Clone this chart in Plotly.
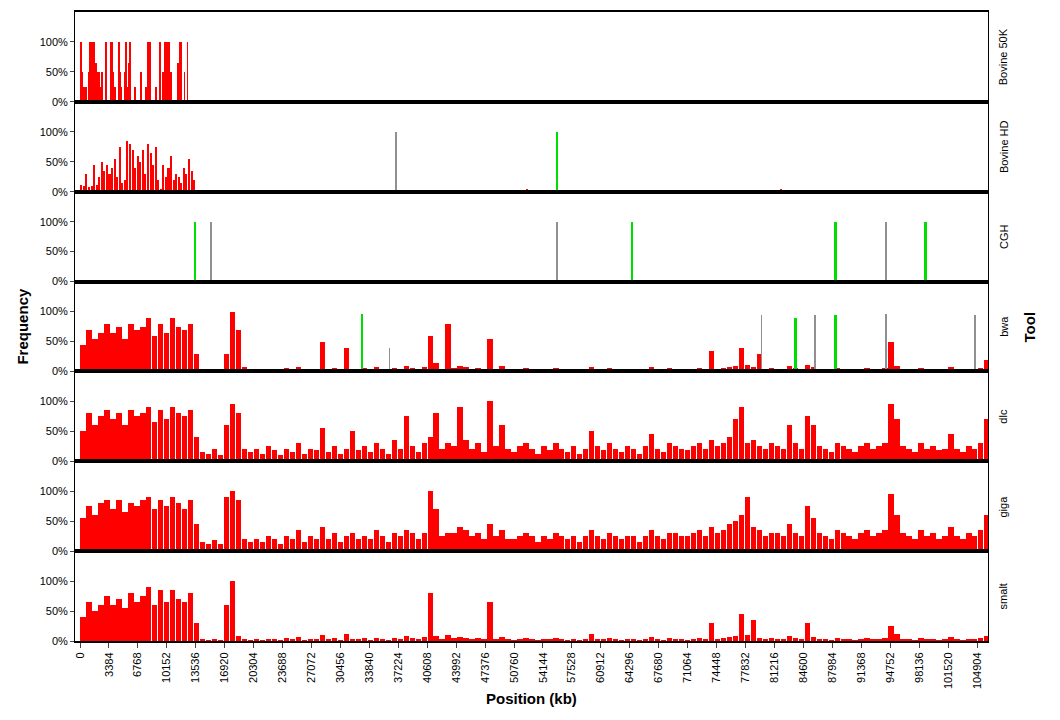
import plotly.graph_objects as go
from plotly.subplots import make_subplots

RED = "#ff0000"
GRAY = "#909090"
GREEN = "#00dd00"

TICKS = list(range(0, 104905, 3384))
TICK_TEXT = [str(t) for t in TICKS]
TOOLS = ["Bovine 50K", "Bovine HD", "CGH", "bwa", "dlc", "giga", "smalt"]

# Bovine 50K: single-SNP positions (kb) and frequency (%)
k50_pos = [156, 273, 507, 741, 1092, 1209, 1326, 1443, 1560, 1677, 1794, 1911, 2028,
           2145, 2262, 2379, 2496, 2613, 3081, 3666, 3783, 3900, 4017, 4134, 4602,
           4719, 4836, 5304, 5421, 5538, 5772, 5889, 6474, 7176, 7761, 7995, 8112,
           8229, 8931, 9399, 9750, 9984, 10101, 10218, 10452, 10686, 11505, 11739,
           11856, 12207, 12558]
k50_val = [100, 50, 25, 25, 50, 100, 25, 100, 50, 100, 25, 65, 50, 50, 50, 25, 25, 50,
           100, 100, 100, 50, 25, 25, 100, 50, 25, 50, 100, 25, 65, 100, 25, 50, 25,
           100, 50, 100, 25, 100, 50, 100, 100, 100, 100, 50, 65, 100, 100, 50, 100]

# Bovine HD: 300 kb bins over the first 13.5 Mb, plus a few isolated calls
hd_pos = [150 + 300 * i for i in range(45)] + [17000, 52300, 82000, 88500, 98500]
hd_val = [12, 10, 30, 8, 10, 45, 12, 25, 50, 35, 45, 30, 40, 55, 25, 75, 15, 20, 85,
          80, 70, 40, 60, 50, 70, 30, 80, 65, 45, 75, 20, 5, 45, 25, 40, 60, 20, 30,
          25, 15, 40, 30, 55, 35, 20] + [3, 5, 4, 2, 3]
hd_gray_pos = [37000, 29800]
hd_gray_val = [100, 2]
hd_green_pos = [55800]
hd_green_val = [100]

cgh_gray_pos = [15300, 55800, 94300]
cgh_gray_val = [100, 100, 100]
cgh_green_pos = [13500, 64600, 88400, 98900]
cgh_green_val = [100, 100, 100, 100]

# 700 kb bins for the sequence-based tools
BIN = 700
bin_pos = [350 + BIN * i for i in range(152)]

dlc_val = [50, 80, 60, 75, 85, 70, 80, 60, 85, 75, 80, 90, 65, 85, 70, 90, 80, 75, 85, 40,
           15, 12, 20, 10, 60, 95, 80, 20, 15, 20, 12, 25, 18, 10, 20, 15, 30, 12, 20, 18,
           55, 15, 25, 12, 20, 50, 18, 25, 15, 30, 20, 12, 35, 20, 75, 25, 15, 30, 40, 80,
           20, 30, 25, 90, 35, 20, 30, 15, 100, 25, 60, 20, 15, 25, 30, 20, 12, 25, 18, 30,
           20, 15, 25, 12, 20, 50, 25, 18, 30, 20, 15, 25, 20, 12, 25, 45, 20, 15, 30, 25,
           20, 18, 25, 30, 20, 35, 25, 30, 40, 70, 90, 30, 35, 25, 20, 30, 25, 20, 60, 30,
           20, 75, 60, 25, 20, 15, 30, 25, 20, 15, 25, 30, 20, 25, 30, 95, 70, 25, 20, 15,
           30, 20, 25, 18, 20, 45, 20, 15, 25, 20, 30, 70]

giga_val = [55, 75, 60, 80, 85, 70, 85, 65, 80, 75, 85, 90, 70, 85, 75, 90, 80, 70, 85, 45,
            15, 12, 18, 12, 90, 100, 85, 20, 15, 20, 15, 25, 20, 12, 25, 20, 35, 15, 25, 20,
            40, 20, 30, 15, 25, 30, 20, 25, 20, 35, 25, 15, 30, 25, 35, 30, 20, 30, 100, 70,
            25, 30, 30, 40, 35, 25, 30, 20, 45, 25, 35, 20, 20, 25, 30, 25, 15, 25, 20, 30,
            25, 20, 25, 15, 25, 35, 25, 20, 30, 25, 20, 25, 25, 15, 25, 35, 25, 20, 30, 30,
            25, 25, 30, 35, 25, 40, 30, 35, 45, 50, 60, 90, 40, 35, 25, 30, 30, 25, 45, 30,
            25, 75, 55, 30, 25, 20, 35, 30, 25, 20, 30, 35, 25, 30, 35, 95, 60, 30, 25, 20,
            35, 25, 30, 20, 25, 40, 25, 20, 30, 25, 35, 60]

bwa_val = [45, 70, 55, 65, 80, 65, 75, 55, 80, 70, 75, 90, 60, 80, 65, 90, 75, 70, 80, 30,
           4, 3, 5, 3, 30, 100, 70, 8, 3, 4, 2, 5, 4, 2, 6, 3, 8, 3, 5, 4,
           50, 4, 6, 3, 40, 5, 4, 6, 3, 8, 5, 3, 6, 5, 10, 6, 4, 8, 60, 15,
           5, 80, 6, 10, 8, 5, 6, 4, 55, 5, 10, 4, 3, 5, 6, 4, 2, 5, 3, 6,
           4, 3, 5, 2, 4, 8, 5, 3, 6, 4, 3, 5, 4, 2, 5, 8, 4, 3, 6, 5,
           4, 3, 5, 6, 4, 35, 5, 6, 8, 10, 40, 12, 8, 30, 5, 6, 5, 4, 10, 6,
           4, 12, 8, 5, 4, 3, 6, 5, 4, 3, 5, 6, 4, 5, 6, 50, 10, 5, 4, 3,
           6, 4, 5, 3, 4, 8, 4, 3, 5, 4, 6, 20]
bwa_gray_pos = [79700, 86000, 94300, 104700, 36200]
bwa_gray_val = [95, 95, 97, 95, 40]
bwa_green_pos = [33000, 83700, 88400]
bwa_green_val = [97, 90, 95]

smalt_val = [40, 65, 50, 60, 75, 60, 70, 55, 80, 65, 75, 90, 60, 85, 65, 85, 70, 65, 80, 30,
             2, 1, 3, 1, 60, 100, 8, 2, 1, 2, 1, 3, 2, 1, 4, 2, 6, 1, 3, 2,
             10, 2, 4, 1, 12, 3, 2, 4, 1, 5, 3, 1, 4, 2, 8, 4, 2, 6, 80, 8,
             3, 10, 4, 6, 5, 3, 4, 2, 65, 3, 6, 2, 1, 3, 4, 2, 1, 3, 2, 4,
             2, 1, 3, 1, 2, 12, 3, 2, 4, 2, 1, 3, 2, 1, 3, 6, 2, 1, 4, 3,
             2, 1, 3, 4, 2, 30, 3, 4, 6, 8, 45, 10, 35, 5, 3, 4, 3, 2, 8, 4,
             2, 30, 6, 3, 2, 1, 4, 3, 2, 1, 3, 4, 2, 3, 4, 25, 12, 3, 2, 1,
             4, 2, 3, 1, 2, 6, 2, 1, 3, 2, 4, 8]

fig = make_subplots(rows=7, cols=1, shared_xaxes=True, vertical_spacing=0)


def add_bars(row, x, y, color, width):
    fig.add_trace(go.Bar(x=x, y=y, width=width, marker={"color": color, "line": {"width": 0}},
                         showlegend=False), row=row, col=1)


add_bars(1, k50_pos, k50_val, RED, 90)
add_bars(2, hd_pos, hd_val, RED, 240)
add_bars(2, hd_gray_pos, hd_gray_val, GRAY, 90)
add_bars(2, hd_green_pos, hd_green_val, GREEN, 220)
add_bars(3, cgh_gray_pos, cgh_gray_val, GRAY, 90)
add_bars(3, cgh_green_pos, cgh_green_val, GREEN, 220)
add_bars(4, bin_pos, bwa_val, RED, 620)
add_bars(4, bwa_gray_pos, bwa_gray_val, GRAY, 90)
add_bars(4, bwa_green_pos, bwa_green_val, GREEN, 220)
add_bars(5, bin_pos, dlc_val, RED, 620)
add_bars(6, bin_pos, giga_val, RED, 620)
add_bars(7, bin_pos, smalt_val, RED, 620)

font = {"family": "Liberation Sans, Arial, sans-serif", "size": 11, "color": "black"}
for r in range(1, 8):
    fig.update_yaxes(range=[0, 150], tickvals=[0, 50, 100], ticktext=["0%", "50%", "100%"],
                     ticks="outside", ticklen=4, showgrid=False, zeroline=False,
                     showline=True, linecolor="black", linewidth=1, mirror=True,
                     automargin=False, tickfont=font, row=r, col=1)
    fig.update_xaxes(range=[-585, 106190], showgrid=False, zeroline=False, showline=True,
                     linecolor="black", linewidth=2, mirror=True, tickvals=TICKS,
                     ticktext=TICK_TEXT, ticks="outside" if r == 7 else "", ticklen=5,
                     showticklabels=(r == 7), tickangle=-90, tickfont=font,
                     automargin=False, row=r, col=1)
    fig.add_annotation(text=TOOLS[r - 1], xref="paper", yref=f"y{'' if r == 1 else r} domain",
                       x=1.008, y=0.5, xanchor="left", yanchor="middle", textangle=-90,
                       showarrow=False, font=font)

fig.add_annotation(text="<b>Tool</b>", xref="paper", yref="paper", x=1.046, y=0.5,
                   xanchor="center", yanchor="middle", textangle=-90, showarrow=False,
                   font={**font, "size": 15})
fig.add_annotation(text="<b>Frequency</b>", xref="paper", yref="paper", x=-0.058, y=0.5,
                   xanchor="center", yanchor="middle", textangle=-90, showarrow=False,
                   font={**font, "size": 15})
fig.add_annotation(text="<b>Position (kb)</b>", xref="paper", yref="paper", x=0.5, y=-0.074,
                   xanchor="center", yanchor="top", showarrow=False, font={**font, "size": 15})

fig.update_layout(width=1060, height=720, margin={"l": 67, "r": 80, "t": 4, "b": 87},
                  plot_bgcolor="white", paper_bgcolor="white", bargap=0, barmode="overlay",
                  font=font)

fig.write_html("out.html")
